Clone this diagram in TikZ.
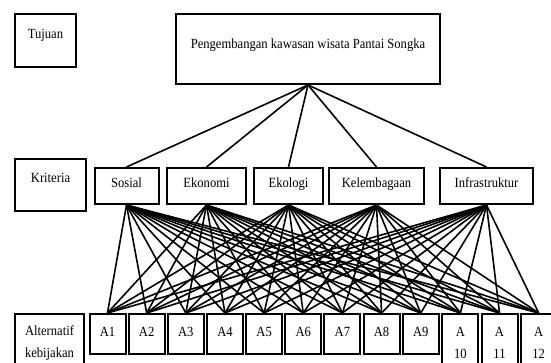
\documentclass[tikz,border=0pt]{standalone}
\usepackage{fontspec}
\setmainfont[FakeStretch=0.9]{Liberation Serif}
\begin{document}
\begin{tikzpicture}[x=1pt, y=-1pt,
	box/.style={draw, line width=2pt, inner sep=0pt, anchor=north, align=center, font=\fontsize{14}{22}\selectfont},
	critbox/.style={box, minimum height=36pt, text height=19pt, text depth=17pt},
	altbox/.style={box, minimum width=36pt, text height=22pt, text depth=18pt},
	tallbox/.style={box, minimum width=36pt, minimum height=58pt},
	link/.style={line width=1.6pt}]
	\useasboundingbox (0,0) rectangle (551,362);
	
	% level labels
	\node[box, minimum width=61pt, text height=24pt, text depth=29pt] (tujuan) at (45.5,13) {Tujuan};
	\node[box, minimum width=71pt, text height=23pt, text depth=29pt] (kriteria) at (50.5,158) {Kriteria};
	\node[box, minimum width=69pt, minimum height=58pt] (alternatif) at (49.5,313) {Alternatif\\kebijakan};
	
	% goal
	\node[box, minimum width=264pt, text height=34pt, text depth=36pt] (goal) at (308,13) {Pengembangan kawasan wisata Pantai Songka};
	
	% criteria
	\node[critbox, minimum width=64pt] (sos) at (126.5,167) {Sosial};
	\node[critbox, minimum width=79pt] (eko) at (206.5,167) {Ekonomi};
	\node[critbox, minimum width=69pt] (ekl) at (288.5,167) {Ekologi};
	\node[critbox, minimum width=95pt] (kel) at (376.5,167) {Kelembagaan};
	\node[critbox, minimum width=93pt] (inf) at (486.5,167) {Infrastruktur};
	
	% alternatives
	\foreach \i in {1,...,9}
		\node[altbox] (a\i) at ({107.5+39.15*(\i-1)},313) {A\i};
	\node[tallbox] (a10) at (460.4,313) {A\\10};
	\node[tallbox] (a11) at (499.5,313) {A\\11};
	\node[tallbox] (a12) at (538.7,313) {A\\12};
	
	\foreach \c in {sos,eko,ekl,kel,inf}
		\draw[link] (goal.south) to (\c.north);
	\foreach \c in {sos,eko,ekl,kel,inf}
		\foreach \i in {1,...,12}
			\draw[link] (\c.south) to (a\i.north);
	
\end{tikzpicture}
\end{document}
